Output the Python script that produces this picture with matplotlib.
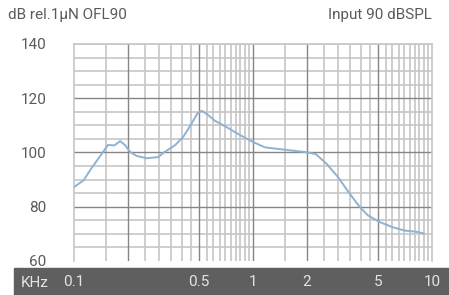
import matplotlib.pyplot as plt
from matplotlib.patches import Rectangle

# frequency response (kHz, dB rel. 1uN)
freq_khz = [0.1, 0.113, 0.126, 0.137, 0.155, 0.168, 0.181, 0.193, 0.206, 0.224,
            0.255, 0.296, 0.316, 0.367, 0.408, 0.454, 0.489, 0.517, 0.552, 0.613,
            0.715, 0.847, 1.0, 1.165, 1.47, 1.99, 2.245, 2.57, 2.98, 3.47,
            3.95, 4.39, 5.12, 6.06, 7.05, 8.15, 8.97]
level_db = [87.3, 89.7, 94.5, 97.8, 102.8, 102.6, 104.2, 102.7, 100.2, 98.7,
            97.9, 98.3, 99.9, 102.7, 105.8, 110.7, 114.4, 115.4, 114.2, 111.7,
            109.3, 106.4, 103.9, 101.9, 101.1, 100.1, 99.4, 95.9, 91.0, 84.8,
            79.9, 76.8, 74.3, 72.4, 71.2, 70.8, 70.2]

x_ticks = [0.1, 0.5, 1, 2, 5, 10]
x_tick_labels = ["0.1", "0.5", "1", "2", "5", "10"]
y_ticks = [60, 80, 100, 120, 140]

# grid layout of the printed chart
major_x = [0.2, 0.5, 1, 2, 5]
minor_x = [0.15, 0.25, 0.3, 0.35, 0.4, 0.45,
           0.55, 0.6, 0.65, 0.7, 0.75, 0.8, 0.85, 0.9, 0.95,
           1.5, 2.5, 3, 3.5, 4, 4.5,
           5.5, 6, 6.5, 7, 7.5, 8, 8.5, 9, 9.5]
major_y = [80, 100, 120]
minor_y = [65, 70, 75, 85, 90, 95, 105, 110, 115, 125, 130, 135, 140]

plt.rcParams['font.family'] = ['Roboto', 'DejaVu Sans']
light = '#c6c6c6'
dark = '#858585'
txt = '#5a5a5a'

fig = plt.figure(figsize=(4.49, 2.95), dpi=100)
ax = fig.add_axes([74 / 449, 1 - 261 / 295, 358 / 449, 217 / 295])

ax.set_xscale('log')
ax.set_xlim(0.1, 10)
ax.set_ylim(60, 140)

for f in minor_x:
    ax.axvline(f, color=light, lw=1.2, zorder=1)
for v in minor_y:
    ax.axhline(v, color=light, lw=1.2, zorder=1)
for f in major_x:
    ax.axvline(f, color=dark, lw=1.0, zorder=2)
for v in major_y:
    ax.axhline(v, color=dark, lw=1.0, zorder=2)

ax.plot(freq_khz, level_db, color='#8fb2d2', lw=1.4, zorder=3)

for side in ['left', 'right', 'top']:
    ax.spines[side].set_color(light)
    ax.spines[side].set_linewidth(1.2)
ax.spines['bottom'].set_visible(False)

ax.set_xticks(x_ticks)
ax.set_xticklabels(x_tick_labels)
ax.xaxis.set_minor_locator(plt.NullLocator())
ax.set_yticks(y_ticks)
ax.tick_params(axis='x', length=0, pad=10, labelsize=11, labelcolor='#e4e4e4')
ax.tick_params(axis='y', length=0, pad=20, labelsize=11, labelcolor=txt)

# dark band with the frequency axis
fig.add_artist(Rectangle((14 / 449, 0), 1 - 14 / 449, 27.3 / 295,
                         transform=fig.transFigure, color='#5f5f5f', zorder=-1))
fig.text(21 / 449, 1 - 283 / 295, "KHz", color='#e4e4e4', fontsize=11,
         ha='left', va='center')

fig.text(8 / 449, 1 - 14.5 / 295, "dB rel.1\u00b5N OFL90", color=txt, fontsize=11,
         ha='left', va='center')
fig.text(432 / 449, 1 - 14.5 / 295, "Input 90 dBSPL", color=txt, fontsize=11,
         ha='right', va='center')

fig.savefig('out.png', dpi=100)
